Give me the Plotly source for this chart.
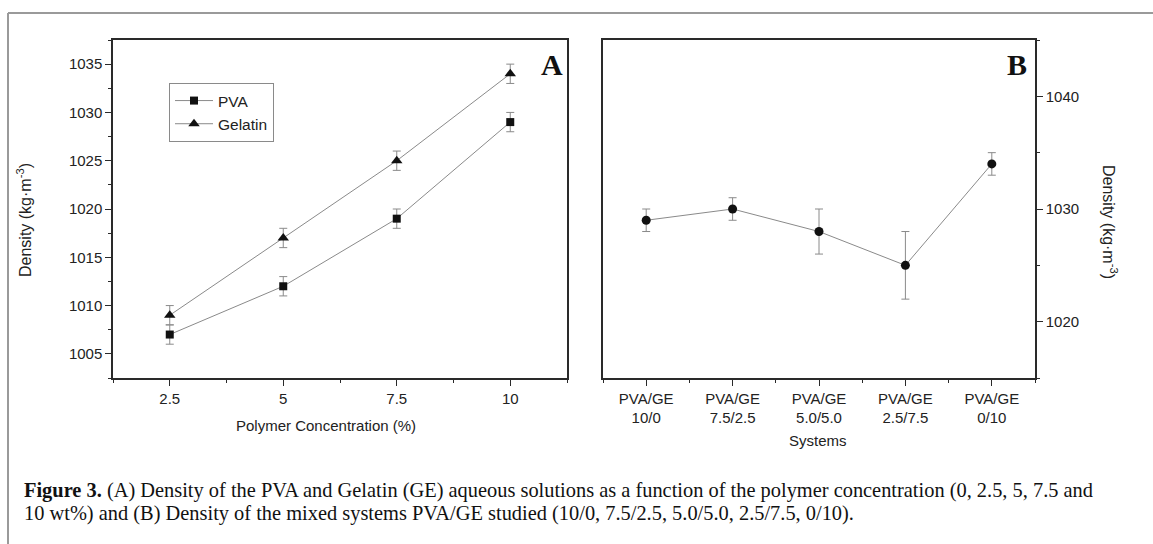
import plotly.graph_objects as go

# ---------------- data ----------------
conc = [2.5, 5, 7.5, 10]
conc_labels = ["2.5", "5", "7.5", "10"]
pva = [1007, 1012, 1019, 1029]
pva_err = [1, 1, 1, 1]
gelatin = [1009, 1017, 1025, 1034]
gelatin_err = [1, 1, 1, 1]

systems = ["PVA/GE<br>10/0", "PVA/GE<br>7.5/2.5", "PVA/GE<br>5.0/5.0",
           "PVA/GE<br>2.5/7.5", "PVA/GE<br>0/10"]
mix_density = [1029, 1030, 1028, 1025, 1034]
mix_err = [1, 1, 2, 3, 1]

ya_ticks = [1005, 1010, 1015, 1020, 1025, 1030, 1035]
yb_ticks = [1020, 1030, 1040]

# ---------------- layout helpers ----------------
W, H = 1153, 544
def px(x): return x / W
def py(y): return 1 - y / H

SANS = "Liberation Sans, Arial, sans-serif"
SERIF = "Liberation Serif, Times New Roman, serif"
AXC = "#2a2a2a"
LINEC = "#8a8a8a"

fig = go.Figure()

fig.add_trace(go.Scatter(
    x=conc, y=pva, name="PVA", mode="lines+markers",
    line=dict(color=LINEC, width=1),
    marker=dict(symbol="square", size=8, color="#111111"),
    error_y=dict(type="data", array=pva_err, color=LINEC, thickness=1, width=4),
    xaxis="x", yaxis="y"))
fig.add_trace(go.Scatter(
    x=conc, y=gelatin, name="Gelatin", mode="lines+markers",
    line=dict(color=LINEC, width=1),
    marker=dict(symbol="triangle-up", size=10, color="#111111"),
    error_y=dict(type="data", array=gelatin_err, color=LINEC, thickness=1, width=4),
    xaxis="x", yaxis="y"))
fig.add_trace(go.Scatter(
    x=list(range(len(systems))), y=mix_density, mode="lines+markers",
    showlegend=False,
    line=dict(color=LINEC, width=1),
    marker=dict(symbol="circle", size=9, color="#111111"),
    error_y=dict(type="data", array=mix_err, color=LINEC, thickness=1, width=4),
    xaxis="x2", yaxis="y2"))

axis_common = dict(showgrid=False, zeroline=False, showline=True, linecolor=AXC,
                   linewidth=1.5, mirror=True, ticks="outside", ticklen=6,
                   tickwidth=1.2, tickcolor=AXC,
                   tickfont=dict(family=SANS, size=15, color="#222"))

fig.update_layout(
    width=W, height=H,
    margin=dict(l=0, r=0, t=0, b=0),
    paper_bgcolor="white", plot_bgcolor="white",
    showlegend=True,
    legend=dict(x=px(169), y=py(83), xanchor="left", yanchor="top",
                bordercolor="#8a8a8a", borderwidth=1, bgcolor="white",
                font=dict(family=SANS, size=15.5, color="#222"),
                itemwidth=38, tracegroupgap=0),
    xaxis=dict(domain=[px(113), px(567)], range=[1.25, 11.25],
               tickvals=conc, ticktext=conc_labels, anchor="y",
               minor=dict(tick0=0, dtick=1.25, ticklen=3, ticks="outside",
                          tickcolor=AXC, showgrid=False),
               **axis_common),
    yaxis=dict(domain=[py(378), py(40)], range=[1002.5, 1037.5],
               tickvals=ya_ticks, anchor="x",
               minor=dict(tick0=0, dtick=2.5, ticklen=3, ticks="outside",
                          tickcolor=AXC, showgrid=False),
               **axis_common),
    xaxis2=dict(domain=[px(603), px(1035)], range=[-0.5, len(systems) - 0.5],
                tickvals=list(range(len(systems))), ticktext=systems, anchor="y2",
                minor=dict(tick0=-0.5, dtick=1, ticklen=3, ticks="outside",
                           tickcolor=AXC, showgrid=False),
                **axis_common),
    yaxis2=dict(domain=[py(378), py(40)], range=[1015, 1045], side="right",
                tickvals=yb_ticks, anchor="x2",
                minor=dict(tick0=0, dtick=5, ticklen=3, ticks="outside",
                           tickcolor=AXC, showgrid=False),
                **axis_common),
)

def note(x, y, text, size, family=SANS, angle=0, xanchor="center", color="#222"):
    fig.add_annotation(x=px(x), y=py(y), xref="paper", yref="paper",
                       xanchor=xanchor, yanchor="middle", text=text,
                       textangle=angle, showarrow=False,
                       font=dict(family=family, size=size, color=color))

# axis titles
note(24, 220, "Density (kg·m<sup>-3</sup>)", 16, angle=-90)
note(326, 425, "Polymer Concentration (%)", 15)
note(818, 440, "Systems", 15)
note(1110, 222, "Density (kg·m<sup>-3</sup>)", 16, angle=90)

# panel letters
note(552, 64, "<b>A</b>", 30, family=SERIF, color="#111")
note(1017, 64, "<b>B</b>", 30, family=SERIF, color="#111")

# caption
note(22, 490, "<b>Figure 3.</b> (A) Density of the PVA and Gelatin (GE) aqueous solutions as a function of the polymer concentration (0, 2.5, 5, 7.5 and",
     20.4, family=SERIF, xanchor="left", color="#111")
note(22, 513, "10 wt%) and (B) Density of the mixed systems PVA/GE studied (10/0, 7.5/2.5, 5.0/5.0, 2.5/7.5, 0/10).",
     20.4, family=SERIF, xanchor="left", color="#111")

# outer frame
fig.add_shape(type="line", xref="paper", yref="paper", x0=px(8), x1=1, y0=py(13), y1=py(13),
              line=dict(color="#9a9a9a", width=2))
fig.add_shape(type="line", xref="paper", yref="paper", x0=px(8), x1=px(8), y0=py(13), y1=0,
              line=dict(color="#9a9a9a", width=2))

fig.write_html("out.html")
